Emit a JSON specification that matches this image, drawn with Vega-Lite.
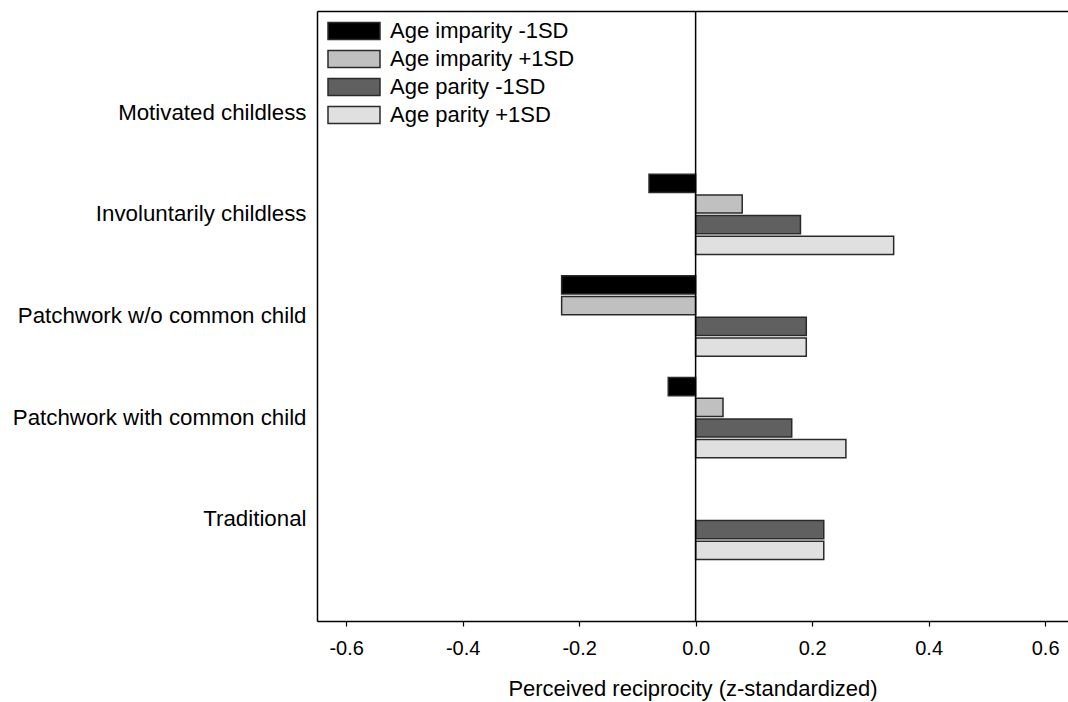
{
  "$schema": "https://vega.github.io/schema/vega-lite/v6.json",
  "width": 751,
  "height": 610,
  "autosize": {"type": "none"},
  "padding": {"left": 317, "top": 11, "right": 0, "bottom": 81},
  "background": "white",
  "config": {
    "view": {"stroke": null},
    "font": "Liberation Sans"
  },
  "layer": [
    {
      "data": {
        "values": [
          {"family": "Involuntarily childless", "group": "Age imparity -1SD", "reciprocity": -0.08},
          {"family": "Involuntarily childless", "group": "Age imparity +1SD", "reciprocity": 0.08},
          {"family": "Involuntarily childless", "group": "Age parity -1SD", "reciprocity": 0.18},
          {"family": "Involuntarily childless", "group": "Age parity +1SD", "reciprocity": 0.34},
          {"family": "Patchwork w/o common child", "group": "Age imparity -1SD", "reciprocity": -0.23},
          {"family": "Patchwork w/o common child", "group": "Age imparity +1SD", "reciprocity": -0.23},
          {"family": "Patchwork w/o common child", "group": "Age parity -1SD", "reciprocity": 0.19},
          {"family": "Patchwork w/o common child", "group": "Age parity +1SD", "reciprocity": 0.19},
          {"family": "Patchwork with common child", "group": "Age imparity -1SD", "reciprocity": -0.047},
          {"family": "Patchwork with common child", "group": "Age imparity +1SD", "reciprocity": 0.047},
          {"family": "Patchwork with common child", "group": "Age parity -1SD", "reciprocity": 0.165},
          {"family": "Patchwork with common child", "group": "Age parity +1SD", "reciprocity": 0.258},
          {"family": "Traditional", "group": "Age parity -1SD", "reciprocity": 0.22},
          {"family": "Traditional", "group": "Age parity +1SD", "reciprocity": 0.22}
        ]
      },
      "mark": {"type": "bar", "stroke": "#2a2a2a", "strokeWidth": 1.5},
      "encoding": {
        "y": {
          "field": "family",
          "type": "nominal",
          "scale": {
            "domain": ["Motivated childless", "Involuntarily childless", "Patchwork w/o common child", "Patchwork with common child", "Traditional"],
            "paddingInner": 0.21,
            "paddingOuter": 0.605
          },
          "axis": {
            "title": null,
            "ticks": false,
            "grid": false,
            "domainColor": "black",
            "domainWidth": 1.5,
            "labelFontSize": 22.3,
            "labelColor": "black",
            "labelPadding": 11,
            "labelLimit": 0
          }
        },
        "yOffset": {
          "field": "group",
          "type": "nominal",
          "scale": {
            "domain": ["Age imparity -1SD", "Age imparity +1SD", "Age parity -1SD", "Age parity +1SD"],
            "paddingInner": 0.12,
            "paddingOuter": 0
          }
        },
        "x": {
          "field": "reciprocity",
          "type": "quantitative",
          "scale": {"domain": [-0.65, 0.6393], "nice": false},
          "axis": {
            "orient": "bottom",
            "values": [-0.6, -0.4, -0.2, 0, 0.2, 0.4, 0.6],
            "labelExpr": "replace(format(datum.value, '.1f'), '\u2212', '-')",
            "grid": false,
            "domainColor": "black",
            "domainWidth": 1.5,
            "tickColor": "black",
            "tickSize": 5,
            "tickWidth": 1.2,
            "labelFontSize": 20,
            "labelColor": "black",
            "labelPadding": 12,
            "labelFlush": false,
            "title": "Perceived reciprocity (z-standardized)",
            "titleFontSize": 22,
            "titleFontWeight": "normal",
            "titleColor": "black",
            "titlePadding": 20
          }
        },
        "color": {
          "field": "group",
          "type": "nominal",
          "scale": {
            "domain": ["Age imparity -1SD", "Age imparity +1SD", "Age parity -1SD", "Age parity +1SD"],
            "range": ["#000000", "#c0c0c0", "#606060", "#e0e0e0"]
          },
          "legend": {
            "title": null,
            "orient": "none",
            "legendX": 23,
            "legendY": 6,
            "padding": 0,
            "symbolType": "M-2,-0.654H2V0.654H-2Z",
            "symbolSize": 676,
            "symbolStrokeColor": "#2a2a2a",
            "symbolStrokeWidth": 1.5,
            "symbolOpacity": 1,
            "labelFontSize": 22,
            "labelColor": "black",
            "labelOffset": 22,
            "labelLimit": 0,
            "rowPadding": 2
          }
        }
      }
    },
    {
      "data": {"values": [{"reciprocity": 0}]},
      "mark": {"type": "rule", "color": "black", "strokeWidth": 1.5},
      "encoding": {
        "x": {
          "field": "reciprocity",
          "type": "quantitative",
          "axis": {
            "orient": "top",
            "labels": false,
            "ticks": false,
            "grid": false,
            "title": null,
            "domainColor": "black",
            "domainWidth": 1.5
          }
        }
      }
    }
  ],
  "resolve": {"axis": {"x": "independent"}}
}
